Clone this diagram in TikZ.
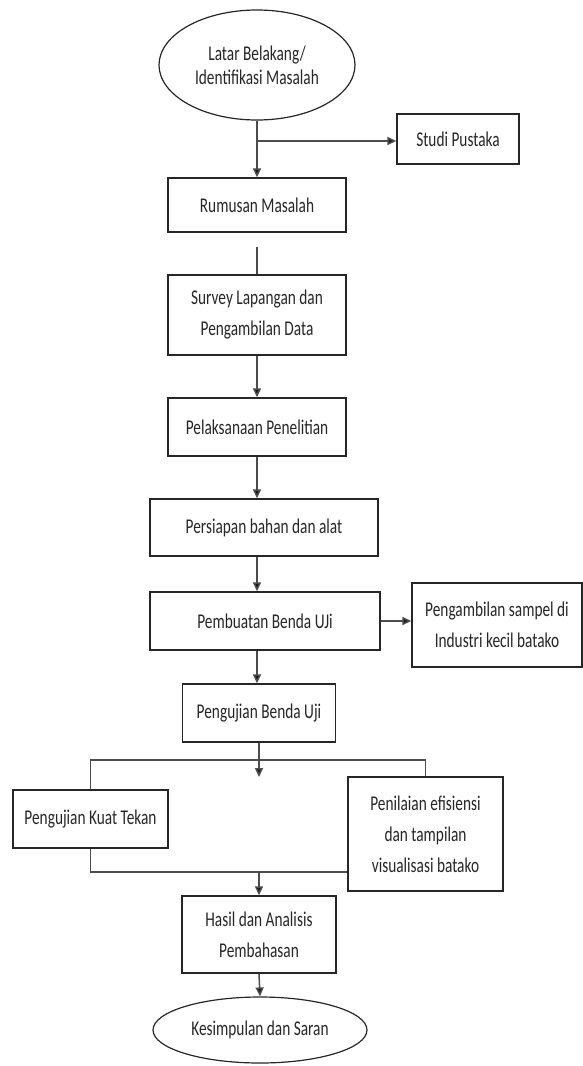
\documentclass[tikz,border=0pt]{standalone}
\usepackage{fontspec}
\setmainfont{Carlito}[FakeStretch=0.73]
\usetikzlibrary{shapes.geometric,arrows.meta}
\begin{document}
\begin{tikzpicture}[x=1pt,y=-1pt,
  box/.style={draw=black!85,line width=1.4pt,rectangle,inner sep=0pt,align=center,
    text=black!85,font=\fontsize{21}{31}\selectfont},
  oval/.style={draw=black!85,line width=1.2pt,ellipse,inner sep=0pt,align=center,
    text=black!85,font=\fontsize{21}{24}\selectfont},
  conn/.style={draw=black!70,line width=1.5pt},
  arr/.style={conn,-{Triangle[length=9pt,width=8pt,fill=black!90]}}]
\useasboundingbox (0,0) rectangle (582,1066);
\node[oval,minimum width=196,minimum height=110] (start) at (257,65) {Latar Belakang/\\Identifikasi Masalah};
\node[box,minimum width=122,minimum height=50] (studi) at (458,139) {Studi Pustaka};
\node[box,minimum width=178,minimum height=54] (rumusan) at (257,205) {Rumusan Masalah};
\node[box,minimum width=178,minimum height=80] (survey) at (257,315) {Survey Lapangan dan\\Pengambilan Data};
\node[box,minimum width=178,minimum height=58] (pelaks) at (257,427) {Pelaksanaan Penelitian};
\node[box,minimum width=228,minimum height=57] (persiapan) at (264,527.5) {Persiapan bahan dan alat};
\node[box,minimum width=230,minimum height=58] (pembuatan) at (265,621) {Pembuatan Benda UJi};
\node[box,minimum width=170,minimum height=84] (pengambilan) at (497,625) {Pengambilan sampel di\\Industri kecil batako};
\node[box,minimum width=153,minimum height=58] (pengujian) at (259,713) {Pengujian Benda Uji};
\node[box,minimum width=155,minimum height=58] (kuat) at (90.5,819) {Pengujian Kuat Tekan};
\node[box,minimum width=155,minimum height=114] (penilaian) at (425.5,834) {Penilaian efisiensi\\dan tampilan\\visualisasi batako};
\node[box,minimum width=154,minimum height=77] (hasil) at (259,934.5) {Hasil dan Analisis\\Pembahasan};
\node[oval,minimum width=214,minimum height=66] (end) at (260,1030) {Kesimpulan dan Saran};
\coordinate (j1) at (257,141);
\coordinate (split) at (259,760);
\coordinate (tip) at (259,777);
\coordinate (merge) at (259,872);
\draw[arr] (start.south) -- (rumusan.north);
\draw[arr] (j1) -- (j1 -| studi.west);
\draw[conn,shorten <=14pt] (rumusan.south) -- (survey.north);
\draw[arr] (survey.south) -- (pelaks.north);
\draw[arr] (pelaks.south) -- (pelaks.south |- persiapan.north);
\draw[arr] (pelaks.south |- persiapan.south) -- (pelaks.south |- pembuatan.north);
\draw[arr] (pembuatan.east) -- (pembuatan.east -| pengambilan.west);
\draw[arr] (pelaks.south |- pembuatan.south) -- (pelaks.south |- pengujian.north);
\draw[conn] (pengujian.south) -- (split);
\draw[arr] (split) -- (tip);
\draw[conn] (kuat.north) |- (split) -| (penilaian.north);
\draw[conn] (kuat.south) |- (merge) -- (merge -| penilaian.west);
\draw[arr] (merge) -- (hasil.north);
\draw[arr] (hasil.south) -- (end.north);
\end{tikzpicture}
\end{document}
